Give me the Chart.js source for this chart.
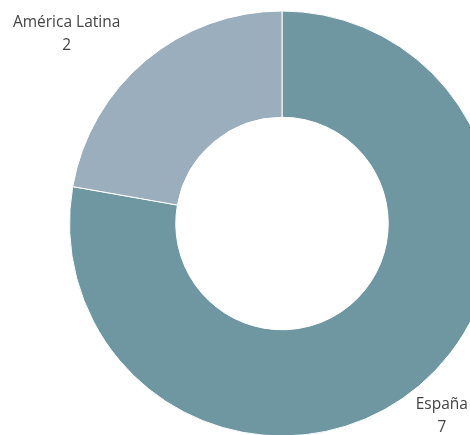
<!DOCTYPE html>
<html>
<head>
<meta charset="utf-8">
<script src="https://cdn.jsdelivr.net/npm/chart.js@4"></script>
<style>
html,body{margin:0;padding:0;background:#fff;overflow:hidden;width:470px;height:435px;}
#wrap{position:absolute;left:0;top:0;width:564px;height:447px;}
</style>
</head>
<body>
<div id="wrap"><canvas id="c" width="564" height="447"></canvas></div>
<script>
const categories = ["España", "América Latina"];
const values = [7, 2];
const colors = ["#6f97a1", "#9aaebe"];

const labelPlugin = {
  id: 'outLabels',
  afterDatasetsDraw(chart, args, opts) {
    const ctx = chart.ctx;
    const meta = chart.getDatasetMeta(0);
    ctx.save();
    ctx.font = opts.font;
    ctx.fillStyle = opts.color;
    ctx.textAlign = 'center';
    ctx.textBaseline = 'middle';
    meta.data.forEach((arc, i) => {
      const mid = (arc.startAngle + arc.endAngle) / 2;
      const off = opts.offsets[i];
      const x = arc.x + Math.cos(mid) * arc.outerRadius * off.r + off.dx;
      const y = arc.y + Math.sin(mid) * arc.outerRadius * off.r + off.dy;
      ctx.fillText(chart.data.labels[i], x, y);
      ctx.fillText(String(chart.data.datasets[0].data[i]), x, y + opts.lineGap);
    });
    ctx.restore();
  }
};

new Chart(document.getElementById('c'), {
  type: 'doughnut',
  data: {
    labels: categories,
    datasets: [{
      data: values,
      backgroundColor: colors,
      borderColor: '#ffffff',
      borderWidth: 1,
      hoverOffset: 0
    }]
  },
  options: {
    responsive: false,
    animation: false,
    cutout: '50%',
    layout: { padding: 10.5 },
    plugins: {
      legend: { display: false },
      tooltip: { enabled: false },
      outLabels: {
        font: '15.5px "Open Sans"',
        color: '#444',
        lineGap: 23,
        offsets: [
          { r: 1.17, dx: 0, dy: -9 },
          { r: 1.35, dx: -31, dy: 19 }
        ]
      }
    }
  },
  plugins: [labelPlugin]
});
</script>
</body>
</html>
